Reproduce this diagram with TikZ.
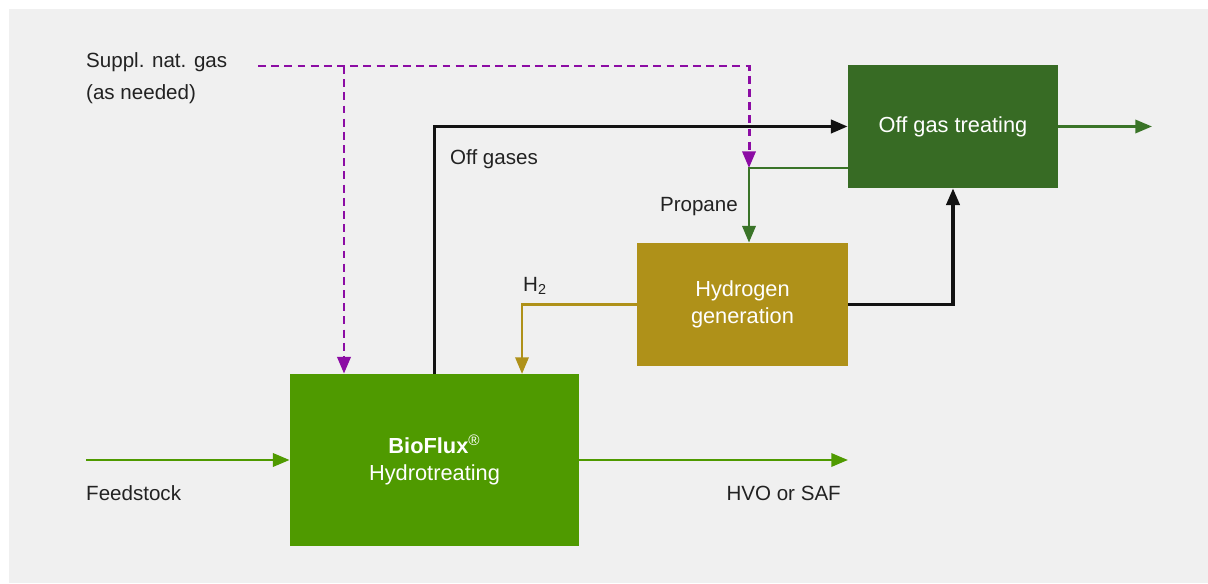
\documentclass[tikz,border=0pt]{standalone}
\usepackage{fontspec}
\setmainfont{Liberation Sans}
\usepackage{tikz}
\usetikzlibrary{arrows.meta,calc}
\definecolor{panel}{HTML}{F0F0F0}
\definecolor{leaf}{HTML}{4F9A00}
\definecolor{moss}{HTML}{376B24}
\definecolor{mossline}{HTML}{3A7428}
\definecolor{ochre}{HTML}{AF9119}
\definecolor{plum}{HTML}{8C0CA4}
\definecolor{ink}{HTML}{222222}

\begin{document}
\begin{tikzpicture}[>={Triangle[length=9.5pt,width=7.5pt]},
  every node/.style={font=\fontsize{11.7}{13}\selectfont,text=ink},
  unitbox/.style={rectangle,inner sep=0pt,align=center,text=white,
    font=\fontsize{12.4}{15.2}\selectfont},
  leafflow/.style={->,draw=leaf,line width=1.6pt},
  mossflow/.style={->,draw=mossline,line width=1.6pt},
  ochreflow/.style={->,draw=ochre,line width=1.6pt},
  blackflow/.style={->,draw=black!93,line width=1.9pt},
  gasflow/.style={->,draw=plum,line width=1.7pt,dash pattern=on 4.5pt off 3pt}]
\useasboundingbox (0,0) rectangle (24.16,11.66);
\fill[panel] (0.18,0) rectangle (24.16,11.48);

\node[unitbox,fill=leaf,minimum width=5.78cm,minimum height=3.44cm] (bio) at (8.69,2.46)
  {\textbf{BioFlux}\textsuperscript{®}\\Hydrotreating};
\node[unitbox,fill=ochre,minimum width=4.22cm,minimum height=2.46cm] (hyd) at (14.85,5.57)
  {Hydrogen\\generation};
\node[unitbox,fill=moss,minimum width=4.2cm,minimum height=2.46cm] (ogt) at (19.06,9.13)
  {Off gas treating};

\coordinate (feed) at (1.72,2.46);
\coordinate (hvo) at (16.96,2.46);
\coordinate (gas) at (5.16,10.34);
\coordinate (gasbranch) at (6.88,10.34);
\coordinate (split) at (14.98,8.30);
\coordinate (h2in) at (10.44,4.18);
\coordinate (stack) at (23.04,9.13);

\draw[leafflow] (feed) -- (bio.west);
\draw[leafflow] (bio.east) -- (hvo);
\draw[blackflow] (bio.north) |- (ogt.west);
\draw[gasflow] (gas) -| (split);
\draw[gasflow] (gasbranch) -- (gasbranch |- bio.north);
\draw[mossflow] (ogt.west |- split) -| (split |- hyd.north);
\draw[ochreflow] (hyd.west) -| (h2in);
\draw[blackflow] (hyd.east) -| (ogt.south);
\draw[mossflow] (ogt.east) -- (stack);

\node[anchor=west] (feedlbl) at (1.6,1.8) {Feedstock};
\node[anchor=east] (hvolbl) at (16.94,1.8) {HVO or SAF};
\node[anchor=west,align=left,font=\fontsize{11.7}{18.2}\selectfont] (gaslbl) at (1.6,10.1)
  {Suppl. nat. gas\\(as needed)};
\node[anchor=west] (offlbl) at (8.88,8.48) {Off gases};
\node[anchor=east] (proplbl) at (14.88,7.52) {Propane};
\node[anchor=west] (h2lbl) at (10.34,5.94) {H\textsubscript{2}};
\end{tikzpicture}
\end{document}
